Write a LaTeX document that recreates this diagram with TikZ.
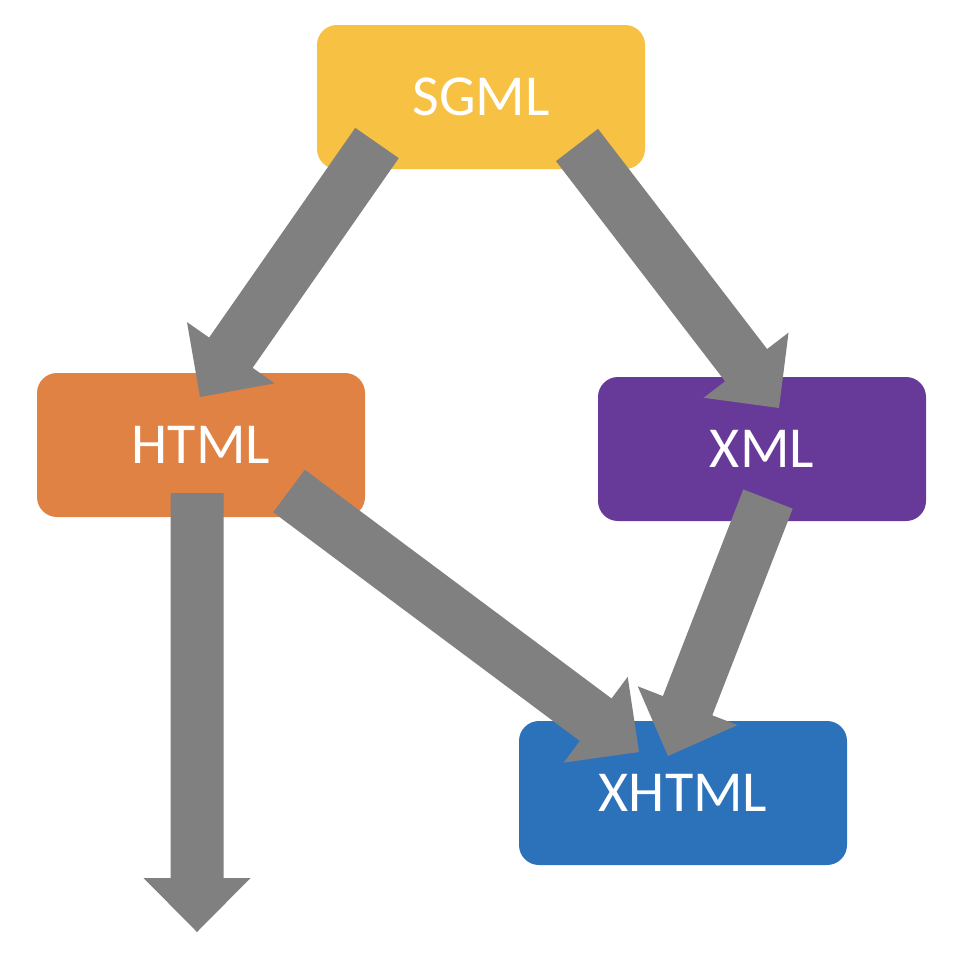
\documentclass[tikz,border=0pt]{standalone}
\usepackage{fontspec}
\setmainfont{Carlito}
\usetikzlibrary{calc}
\definecolor{sgmlc}{RGB}{247,193,67}
\definecolor{htmlc}{RGB}{224,130,68}
\definecolor{xmlc}{RGB}{103,57,152}
\definecolor{xhtmlc}{RGB}{44,114,187}
\definecolor{arrowgray}{RGB}{128,128,128}
\def\asw{26.5pt}
\def\ahw{53.5pt}
\def\ahl{54pt}
\newcommand\blockarrow[2]{%
  \coordinate (ba-h) at ($(#2)!\ahl!(#1)$);
  \fill[arrowgray] ($(#1)!\asw!90:(#2)$) -- ($(ba-h)!\asw!90:(#2)$) -- ($(ba-h)!\ahw!90:(#2)$) -- (#2)
    -- ($(ba-h)!\ahw!-90:(#2)$) -- ($(ba-h)!\asw!-90:(#2)$) -- ($(#1)!\asw!-90:(#2)$) -- cycle;}
\tikzset{
  langbox/.style={rectangle, rounded corners=20pt, minimum width=328pt, minimum height=144pt,
    inner sep=0pt, text=white, font=\fontsize{58}{70}\selectfont}
}
\begin{document}
\begin{tikzpicture}[x=1pt,y=-1pt]
\useasboundingbox[fill=white] (0,0) rectangle (979,975);
\node[langbox, fill=sgmlc] (sgml) at (481,97) {\raisebox{-2pt}{SGML}};
\node[langbox, fill=htmlc] (html) at (201,445) {\raisebox{-2pt}{HTML}};
\node[langbox, fill=xmlc] (xml) at (762,449) {\raisebox{-2pt}{XML}};
\node[langbox, fill=xhtmlc] (xhtml) at (683,793) {\raisebox{-2pt}{XHTML}};
\coordinate (a1s) at (377,143);
\coordinate (a1e) at (200,397);
\coordinate (a2s) at (577,145);
\coordinate (a2e) at (779,408);
\coordinate (a3s) at (197,493);
\coordinate (a3e) at (197,932);
\coordinate (a4s) at (289,491);
\coordinate (a4e) at (639,752);
\coordinate (a5s) at (768,499);
\coordinate (a5e) at (668,756);
\blockarrow{a1s}{a1e}
\blockarrow{a2s}{a2e}
\blockarrow{a3s}{a3e}
\blockarrow{a4s}{a4e}
\blockarrow{a5s}{a5e}
\end{tikzpicture}
\end{document}
